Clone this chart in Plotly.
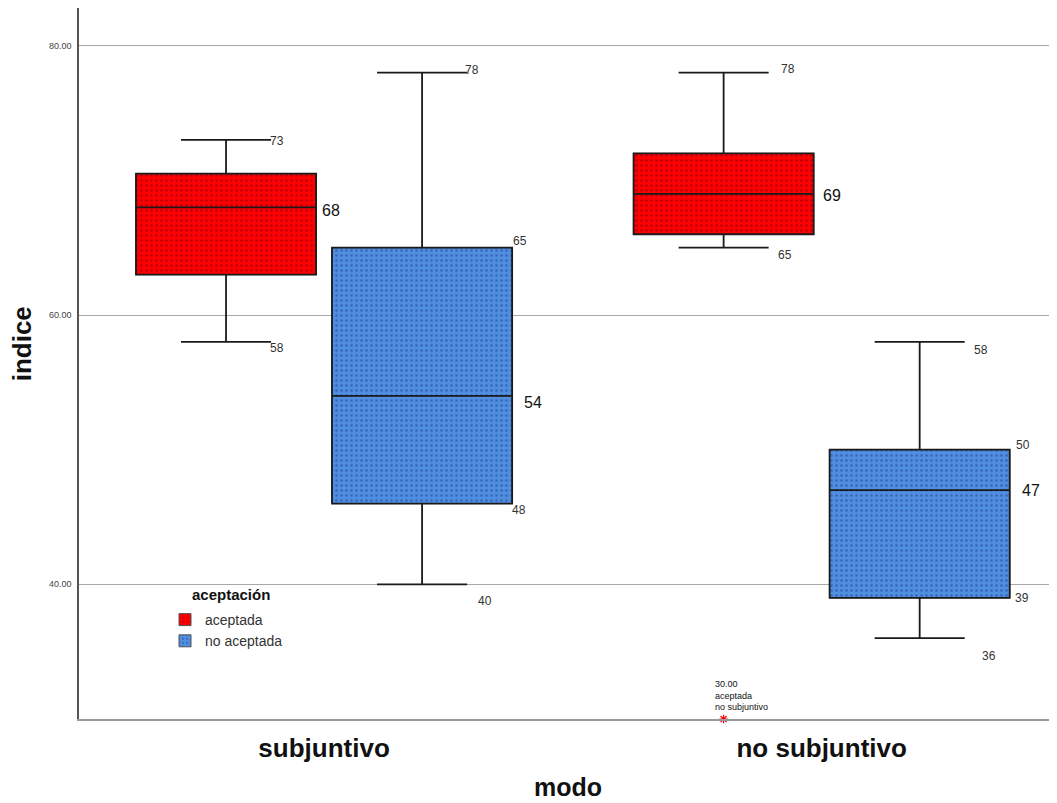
import plotly.graph_objects as go

# ---- data ----
categories = ["subjuntivo", "no subjuntivo"]
series = ["aceptada", "no aceptada"]
lowerfence = {"aceptada": [58, 65], "no aceptada": [40, 36]}
q1 = {"aceptada": [63, 66], "no aceptada": [46, 39]}
median = {"aceptada": [68, 69], "no aceptada": [54, 47]}
q3 = {"aceptada": [70.5, 72], "no aceptada": [65, 50]}
upperfence = {"aceptada": [73, 78], "no aceptada": [78, 58]}
outlier_value = 30
outlier_group = "no subjuntivo"
outlier_series = "aceptada"
y_ticks = [40, 80, 60]
# value labels: (text, series, category index, y value)
value_labels = [
    ("73", "aceptada", 0, 73), ("68", "aceptada", 0, 68), ("58", "aceptada", 0, 58),
    ("78", "no aceptada", 0, 78), ("65", "no aceptada", 0, 65), ("54", "no aceptada", 0, 54),
    ("48", "no aceptada", 0, 46), ("40", "no aceptada", 0, 40),
    ("78", "aceptada", 1, 78), ("69", "aceptada", 1, 69), ("65", "aceptada", 1, 65),
    ("58", "no aceptada", 1, 58), ("50", "no aceptada", 1, 50), ("47", "no aceptada", 1, 47),
    ("39", "no aceptada", 1, 39), ("36", "no aceptada", 1, 36),
]

# ---- styles ----
colors = {"aceptada": "#ff0000", "no aceptada": "#4f8ee0"}
offset = {"aceptada": -0.197, "no aceptada": 0.197}
box_w = 0.362
FONT = "Arial, Liberation Sans, sans-serif"
PLOT_H = 711  # plot area height in px
PLOT_W = 978

fig = go.Figure()
# filled, dotted box bodies (also provide the legend squares)
for s in series:
    xs = [i + offset[s] for i in range(len(categories))]
    fig.add_trace(go.Bar(
        name=s, x=xs, base=q1[s], y=[b - a for a, b in zip(q1[s], q3[s])], width=box_w,
        marker=dict(color=colors[s], line=dict(width=1, color="#555555"),
                    pattern=dict(shape=".", fgcolor="rgba(0,0,60,0.55)", size=5, solidity=0.2)),
        hoverinfo="skip",
    ))
# whiskers, medians, outlines
for s in series:
    xs = [i + offset[s] for i in range(len(categories))]
    fig.add_trace(go.Box(
        name=s, x=xs, q1=q1[s], median=median[s], q3=q3[s],
        lowerfence=lowerfence[s], upperfence=upperfence[s],
        width=box_w, whiskerwidth=0.5, boxpoints=False, showlegend=False,
        fillcolor="rgba(0,0,0,0)", line=dict(color="#1a1a1a", width=1.8),
        hoverinfo="skip",
    ))

# outlier
ox = categories.index(outlier_group) + offset[outlier_series]
fig.add_trace(go.Scatter(
    x=[ox], y=[outlier_value], mode="markers", showlegend=False, cliponaxis=False,
    marker=dict(symbol="asterisk-open", size=7, color="#ff0000", line=dict(color="#ff0000", width=1.2)),
))
fig.add_annotation(
    x=ox, y=outlier_value, xref="x", yref="y", xanchor="left", yanchor="bottom",
    xshift=-11, yshift=5, showarrow=False, align="left",
    text=f"{outlier_value:.2f}<br>{outlier_series}<br>{outlier_group}",
    font=dict(family=FONT, size=9, color="#111111"),
)

# per-label pixel placement (x offset from box centre, y shift)
label_pos = {
    (0, "aceptada", "73"): (42, -1), (0, "aceptada", "68"): (94, -3), (0, "aceptada", "58"): (42, -6),
    (0, "no aceptada", "78"): (41, 3), (0, "no aceptada", "65"): (89, 7), (0, "no aceptada", "54"): (100, -7),
    (0, "no aceptada", "48"): (88, -6), (0, "no aceptada", "40"): (54, -17),
    (1, "aceptada", "78"): (55, 4), (1, "aceptada", "69"): (97, -2), (1, "aceptada", "65"): (52, -7),
    (1, "no aceptada", "58"): (52, -8), (1, "no aceptada", "50"): (94, 5), (1, "no aceptada", "47"): (100, 0),
    (1, "no aceptada", "39"): (93, 0), (1, "no aceptada", "36"): (60, -18),
}
for text, s, ci, yv in value_labels:
    dx, dy = label_pos[(ci, s, text)]
    is_median = median[s][ci] == yv
    fig.add_annotation(
        x=ci + offset[s], y=yv, xref="x", yref="y", xanchor="left", yanchor="middle",
        xshift=dx, yshift=dy, showarrow=False, text=text,
        font=dict(family=FONT, size=16 if is_median else 12,
                  color="#111111" if is_median else "#333333"),
    )

# axis titles and legend title
fig.add_annotation(x=0.5, y=-68 / PLOT_H, xref="paper", yref="paper", xanchor="center", yanchor="middle",
                   showarrow=False, text="<b>modo</b>", font=dict(family=FONT, size=25, color="#111111"))
fig.add_annotation(x=-57 / PLOT_W, y=0.527, xref="paper", yref="paper", xanchor="center", yanchor="middle",
                   showarrow=False, textangle=-90, text="<b>indice</b>",
                   font=dict(family=FONT, size=26, color="#111111"))
fig.add_annotation(x=111 / PLOT_W, y=125 / PLOT_H, xref="paper", yref="paper", xanchor="left", yanchor="middle",
                   showarrow=False, text="<b>aceptación</b>",
                   font=dict(family=FONT, size=15, color="#111111"))

fig.update_layout(
    width=1049, height=795,
    margin=dict(l=71, r=0, t=0, b=84),
    paper_bgcolor="white", plot_bgcolor="white",
    boxmode="overlay", barmode="overlay",
    font=dict(family=FONT),
    legend=dict(
        x=86 / PLOT_W, y=115 / PLOT_H, xanchor="left", yanchor="top",
        bgcolor="rgba(0,0,0,0)", font=dict(family=FONT, size=14, color="#333333"),
        itemwidth=30, tracegroupgap=0,
    ),
    xaxis=dict(
        range=[-0.4925, 1.473], tickvals=[0, 1], ticktext=[f"<b>{c}</b>" for c in categories],
        tickfont=dict(family=FONT, size=26, color="#111111"), showgrid=False, zeroline=False,
        showline=True, linecolor="#9a9a9a", linewidth=2, ticks="", ticklabelstandoff=5,
    ),
    yaxis=dict(
        range=[30, 82.8], tickvals=y_ticks, ticktext=[f"{v:.2f}" for v in y_ticks],
        tickfont=dict(family=FONT, size=9, color="#444444"), showgrid=True,
        gridcolor="#a8a8a8", gridwidth=1, zeroline=False,
        showline=True, linecolor="#555555", linewidth=1.5, ticks="", ticklabelstandoff=4,
    ),
)

fig.write_html("out.html")
